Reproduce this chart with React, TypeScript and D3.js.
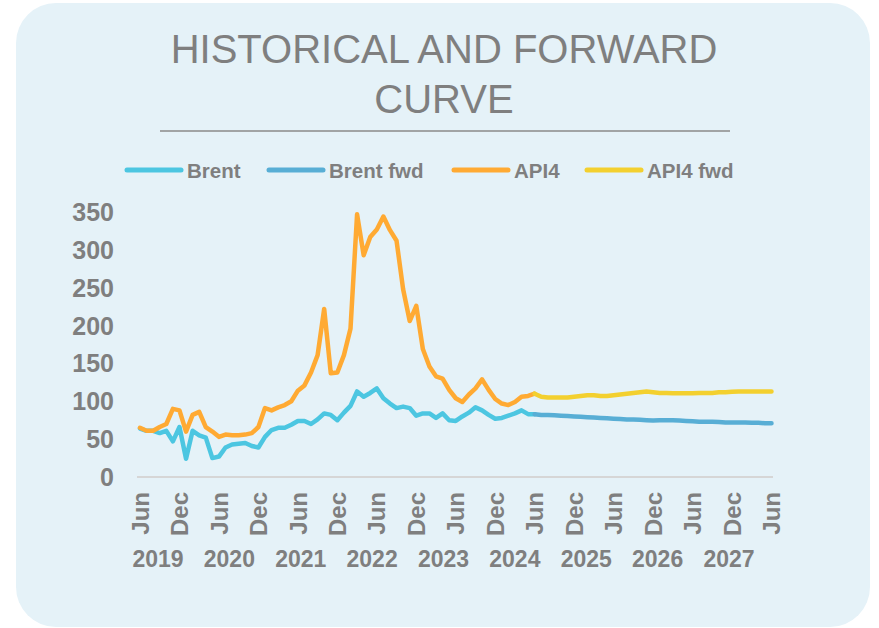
import React from 'react';
import * as d3 from 'd3';

// monthly values, Jun 2019 .. Jun 2024 (historical)
const brent = [
  64, 61, 61, 58, 61, 47, 66, 24, 61, 55, 52, 25, 27, 39, 43, 44, 45, 41, 39, 53,
  62, 65, 65, 69, 74, 74, 70, 76, 84, 82, 75, 85, 94, 113, 106, 111, 117, 104, 97, 91,
  93, 91, 81, 84, 84, 78, 84, 75, 74, 80, 85, 92, 88, 82, 77, 78, 81, 84, 88, 83, 83,
];
const api4 = [
  65, 61, 61, 66, 70, 90, 88, 60, 82, 86, 66, 60, 53, 56, 55, 55, 56, 58, 66, 91,
  88, 92, 95, 100, 114, 121, 138, 161, 222, 137, 138, 161, 196, 347, 293, 317, 327, 344, 326, 312,
  248, 206, 226, 169, 146, 133, 130, 115, 104, 99, 109, 117, 129, 115, 103, 97, 95, 99, 106, 107, 110,
];
// monthly forward curves, Jun 2024 .. Jun 2027
const brentFwd = [
  83, 82, 82, 81.5, 81, 80.5, 80, 79.5, 79, 78.5, 78, 77.5, 77, 76.5, 76, 76, 75.5, 75, 74.5, 75,
  75, 75, 74.5, 74, 73.5, 73, 73, 73, 72.5, 72, 72, 72, 72, 71.5, 71.5, 71, 71,
];
const api4Fwd = [
  110, 106, 105, 105, 105, 105, 106, 107, 108, 108, 107, 107, 108, 109, 110, 111, 112, 113, 112, 111,
  111, 110.5, 110.5, 110.5, 110.5, 111, 111, 111, 112, 112, 112.5, 113, 113, 113, 113, 113, 113,
];

const months = d3.timeMonth.range(new Date(2019, 5, 1), new Date(2027, 6, 1));
const fwdStart = brent.length - 1;
const years = [2019, 2020, 2021, 2022, 2023, 2024, 2025, 2026, 2027];
const yTicks = [0, 50, 100, 150, 200, 250, 300, 350];

const series = [
  { name: 'Brent', values: brent, offset: 0, color: '#4CC6E1' },
  { name: 'Brent fwd', values: brentFwd, offset: fwdStart, color: '#58AED5' },
  { name: 'API4', values: api4, offset: 0, color: '#FFAA33' },
  { name: 'API4 fwd', values: api4Fwd, offset: fwdStart, color: '#F3D02F' },
];

const legendX = [127, 269, 454, 587];

const App = () => {
  const W = 879;
  const H = 628;
  const gray = '#7F7F7F';
  const font = '"Liberation Sans", Arial, sans-serif';

  const x = d3.scaleLinear().domain([0, months.length - 1]).range([140, 771.5]);
  const y = d3.scaleLinear().domain([0, 350]).range([477, 212]);
  const yearX = d3.scaleLinear().domain([2019, 2027]).range([158, 729]);
  const fmt = d3.timeFormat('%b');

  const tickMonths = months
    .map((m, i) => ({ m, i }))
    .filter(d => d.m.getMonth() === 5 || d.m.getMonth() === 11);

  return (
    <svg width={W} height={H} style={{ position: 'absolute', left: 0, top: 0 }} fontFamily={font}>
      <rect x={0} y={0} width={W} height={H} fill="#ffffff" />
      <rect x={16} y={3} width={854} height={624} rx={40} fill="#E5F2F8" />

      <text x={444} y={63} textAnchor="middle" fontSize={40} fill={gray}>HISTORICAL AND FORWARD</text>
      <text x={444} y={113} textAnchor="middle" fontSize={40} fill={gray}>CURVE</text>
      <line x1={160} x2={730} y1={131} y2={131} stroke="#8A8A8A" strokeWidth={1.5} />

      {series.map((s, i) => (
        <g key={s.name}>
          <line x1={legendX[i]} x2={legendX[i] + 54} y1={170} y2={170} stroke={s.color} strokeWidth={5} strokeLinecap="round" />
          <text x={legendX[i] + 60} y={177.5} fontSize={20.5} fontWeight="bold" fill={gray}>{s.name}</text>
        </g>
      ))}

      {yTicks.map(t => (
        <text key={t} x={114} y={y(t)} dy="0.36em" textAnchor="end" fontSize={25} fontWeight="bold" fill={gray}>{t}</text>
      ))}

      <line x1={137} x2={773} y1={y(0)} y2={y(0)} stroke="#D6D6D6" strokeWidth={2} />

      {tickMonths.map(d => (
        <text key={d.i} transform={`translate(${x(d.i)},${492}) rotate(-90)`} dy="0.36em" textAnchor="end" fontSize={24} fontWeight="bold" fill={gray}>{fmt(d.m)}</text>
      ))}

      {years.map(yr => (
        <text key={yr} x={yearX(yr)} y={567} textAnchor="middle" fontSize={23} fontWeight="bold" fill={gray}>{yr}</text>
      ))}

      {series.map(s => {
        const gen = d3.line<number>()
          .x((_, i) => x(i + s.offset))
          .y(v => y(v));
        return (
          <path key={s.name} d={gen(s.values) || ''} fill="none" stroke={s.color} strokeWidth={4.5} strokeLinejoin="round" strokeLinecap="round" />
        );
      })}
    </svg>
  );
};

export default App;
